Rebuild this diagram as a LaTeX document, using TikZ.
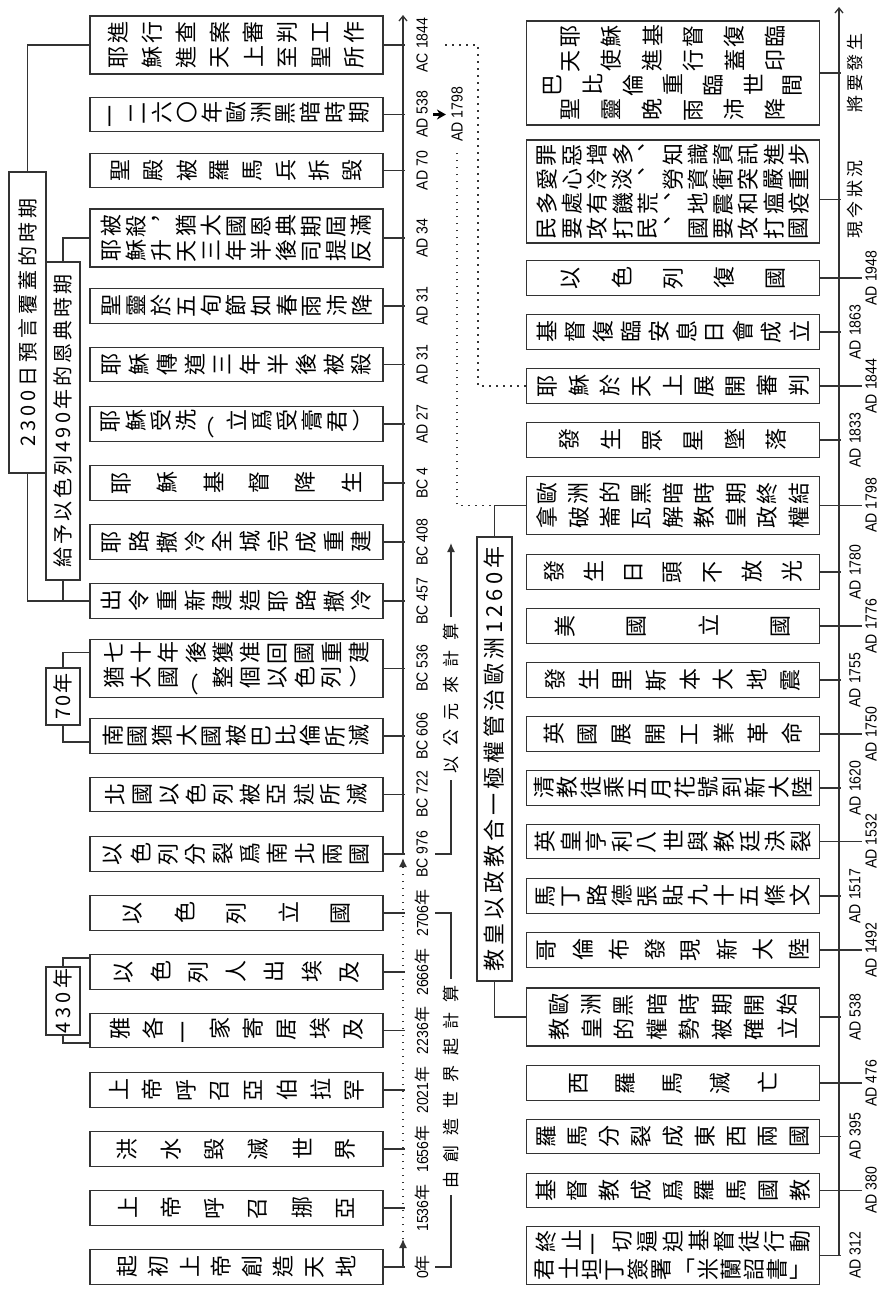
\documentclass[tikz,border=0pt]{standalone}
\usepackage{fontspec}
\usepackage{graphicx}
\usepackage{tikz}
\usetikzlibrary{arrows.meta}
\setmainfont{Liberation Sans}
\newfontfamily\cjk{Noto Sans CJK TC}
\newfontfamily\datefont[FakeStretch=0.88]{Liberation Sans}
\newcommand\nian{{\cjk 年}}
\newcommand\upright[1]{\rotatebox[origin=c]{-90}{#1}}

\ExplSyntaxOn
\dim_new:N \l_cell_dim
% one row of sideways characters spread over a given width
\NewDocumentCommand \sidecells { m m }
  {
    \dim_set:Nn \l_cell_dim { #1 / \tl_count:n {#2} }
    \hbox_to_wd:nn {#1}
      {
        \tl_map_inline:nn {#2}
          { \hbox_to_wd:nn { \l_cell_dim } { \hss \rotatebox[origin=c]{90}{##1} \hss } }
      }
  }
% letter spaced text
\NewDocumentCommand \tracked { m m }
  { \tl_map_inline:nn {#2} { ##1 \kern #1 } \kern -#1 }
\ExplSyntaxOff

\begin{document}
\begin{tikzpicture}[x=0.5pt, y=-0.5pt,
  box/.style={draw=black!80, line width=0.7pt, inner sep=0pt, minimum width=146.5pt,
    minimum height=17.25pt, align=center, font=\cjk\fontsize{11pt}{12.25pt}\selectfont},
  tall/.style={minimum height=29pt},
  spanbox/.style={draw=black!80, line width=0.7pt, rotate=90, inner sep=0pt,
    minimum height=17pt, font=\cjk\fontsize{10pt}{12pt}\selectfont},
  note/.style={rotate=90, inner sep=3pt, font=\cjk\fontsize{8.5pt}{10pt}\selectfont},
  date/.style={rotate=90, inner sep=1pt, font=\datefont\fontsize{8pt}{9pt}\selectfont},
  link/.style={draw=black!80, line width=0.65pt},
  dotline/.style={draw=black!80, line width=0.7pt, dash pattern=on 0.7pt off 2.8pt},
  headtip/.style={-{Latex[length=4.5pt,width=4pt]}},
  openhead/.style={-{Straight Barb[length=2.5pt,width=4pt]}}]
\useasboundingbox (0,0) rectangle (887,1292);

% Fixed points
\coordinate (laxis) at (403,0);
\coordinate (lt) at (405,0);
\coordinate (ldate) at (422,0);
\coordinate (lmid) at (403,1239);
\coordinate (lbc) at (403,858);
\coordinate (ltop) at (403,15);
\coordinate (raxis) at (839,0);
\coordinate (rt) at (841,0);
\coordinate (rl) at (862,0);
\coordinate (rn) at (855,0);
\coordinate (rf) at (871,0);
\coordinate (rtop) at (839,7);
\coordinate (cstart) at (435,0);
\coordinate (ceend) at (0,543);
\coordinate (dotx) at (457,0);
\coordinate (c1844) at (478,45);

% Left timeline boxes
\node[box, tall] (judgment) at (236.5,45) {\sidecells{135pt}{進行查案審判工作}\\\sidecells{135pt}{耶穌進天上至聖所}};
\node[box] (dark) at (236.5,114.5) {\sidecells{135.5pt}{一二六〇年歐洲黑暗時期}};
\node[box] (temple) at (236.5,170.5) {\sidecells{132.5pt}{聖殿被羅馬兵拆毀}};
\node[box, tall] (stephen) at (236.5,238) {\sidecells{137.5pt}{被殺︐猶大國恩典期屆滿}\\\sidecells{137.5pt}{耶穌升天三年半後司提反}};
\node[box] (pentecost) at (236.5,306) {\sidecells{138pt}{聖靈於五旬節如春雨沛降}};
\node[box] (cross) at (236.5,364.5) {\sidecells{139pt}{耶穌傳道三年半後被殺}};
\node[box] (baptism) at (236.5,424) {\sidecells{138.5pt}{耶穌受洗︵立爲受膏君︶}};
\node[box] (birth) at (236.5,483) {\sidecells{138pt}{耶穌基督降生}};
\node[box] (rebuilt) at (236.5,542) {\sidecells{139pt}{耶路撒冷全城完成重建}};
\node[box] (decree) at (236.5,601) {\sidecells{139pt}{出令重新建造耶路撒冷}};
\node[box, tall] (back) at (236.5,668.5) {\sidecells{136pt}{七十年後獲准回國重建}\\\sidecells{136pt}{猶大國︵整個以色列︶}};
\node[box] (south) at (236.5,736) {\sidecells{135.5pt}{南國猶大國被巴比倫所滅}};
\node[box] (north) at (236.5,794.5) {\sidecells{134.5pt}{北國以色列被亞述所滅}};
\node[box] (split) at (236.5,854) {\sidecells{137pt}{以色列分裂爲南北兩國}};
\node[box] (kingdom) at (236.5,913) {\sidecells{130pt}{以色列立國}};
\node[box] (exodus) at (236.5,972) {\sidecells{132pt}{以色列人出埃及}};
\node[box] (jacob) at (236.5,1030.5) {\sidecells{133.5pt}{雅各一家寄居埃及}};
\node[box] (abraham) at (236.5,1090) {\sidecells{135pt}{上帝呼召亞伯拉罕}};
\node[box] (flood) at (236.5,1149) {\sidecells{131pt}{洪水毀滅世界}};
\node[box] (noah) at (236.5,1208) {\sidecells{131pt}{上帝呼召挪亞}};
\node[box] (creation) at (236.5,1267) {\sidecells{125pt}{起初上帝創造天地}};

% Left timeline dates
\node[date] (djudgment) at (judgment -| ldate) {AC 1844};
\node[date] (ddark) at (dark -| ldate) {AD 538};
\node[date] (dtemple) at (temple -| ldate) {AD 70};
\node[date] (dstephen) at (stephen -| ldate) {AD 34};
\node[date] (dpentecost) at (pentecost -| ldate) {AD 31};
\node[date] (dcross) at (cross -| ldate) {AD 31};
\node[date] (dbaptism) at (baptism -| ldate) {AD 27};
\node[date] (dbirth) at (birth -| ldate) {BC 4};
\node[date] (drebuilt) at (rebuilt -| ldate) {BC 408};
\node[date] (ddecree) at (decree -| ldate) {BC 457};
\node[date] (dback) at (back -| ldate) {BC 536};
\node[date] (dsouth) at (south -| ldate) {BC 606};
\node[date] (dnorth) at (north -| ldate) {BC 722};
\node[date] (dsplit) at (split -| ldate) {BC 976};
\node[date] (dkingdom) at (kingdom -| ldate) {2706\nian};
\node[date] (dexodus) at (exodus -| ldate) {2666\nian};
\node[date] (djacob) at (jacob -| ldate) {2236\nian};
\node[date] (dabraham) at (abraham -| ldate) {2021\nian};
\node[date] (dflood) at (flood -| ldate) {1656\nian};
\node[date] (dnoah) at (noah -| ldate) {1536\nian};
\node[date] (dcreation) at (creation -| ldate) {0\nian};

% Left timeline axis and ticks
\draw[link, headtip] (creation -| laxis) -- (lmid);
\draw[dotline, headtip] (lmid) -- (lbc);
\draw[link, openhead] (split -| laxis) -- (ltop);
\draw[link] (judgment) -- (judgment -| lt);
\draw[link] (dark) -- (dark -| lt);
\draw[link] (temple) -- (temple -| lt);
\draw[link] (stephen) -- (stephen -| lt);
\draw[link] (pentecost) -- (pentecost -| lt);
\draw[link] (cross) -- (cross -| lt);
\draw[link] (baptism) -- (baptism -| lt);
\draw[link] (birth) -- (birth -| lt);
\draw[link] (rebuilt) -- (rebuilt -| lt);
\draw[link] (decree) -- (decree -| lt);
\draw[link] (back) -- (back -| lt);
\draw[link] (south) -- (south -| lt);
\draw[link] (north) -- (north -| lt);
\draw[link] (split) -- (split -| lt);
\draw[link] (kingdom) -- (kingdom -| lt);
\draw[link] (exodus) -- (exodus -| lt);
\draw[link] (jacob) -- (jacob -| lt);
\draw[link] (abraham) -- (abraham -| lt);
\draw[link] (flood) -- (flood -| lt);
\draw[link] (noah) -- (noah -| lt);
\draw[link] (creation) -- (creation -| lt);

% Periods on the left
\node[spanbox, minimum width=150.5pt, minimum height=18.5pt] (p2300) at (27.5,322.5) {\tracked{2pt}{2300日預言覆蓋的時期}};
\node[spanbox, minimum width=159pt] (p490) at (63,421) {\tracked{1.5pt}{給予以色列490年的恩典時期}};
\node[spanbox, minimum width=28.5pt] (p70) at (63,696.5) {\tracked{1pt}{70年}};
\node[spanbox, minimum width=34pt] (p430) at (63,1001) {\tracked{2pt}{430年}};
\draw[link] (p2300.east) |- (judgment.west);
\draw[link] (p2300.west) |- (decree.west);
\draw[link] (p490.east) |- (stephen.west);
\draw[link] (p490.west) |- (decree.west);
\draw[link] (p70.east) |- ([yshift=8pt]back.west);
\draw[link] (p70.west) |- ([yshift=-3pt]south.west);
\draw[link] (p430.east) |- ([yshift=7pt]exodus.west);
\draw[link] (p430.west) |- ([yshift=-6.25pt]jacob.west);

% Counting notes
\node[note] (fromcreation) at (451,1087) {\tracked{4.8pt}{由創造世界起計算}};
\node[note] (commonera) at (451,698.5) {\tracked{4.8pt}{以公元來計算}};
\draw[link] (creation -| cstart) -| (fromcreation.west);
\draw[link] (kingdom -| cstart) -| (fromcreation.east);
\draw[link] (split -| cstart) -| (commonera.west);
\draw[link, headtip] (commonera.east) -- (commonera.east |- ceend);

% Right timeline boxes
\node[box, minimum height=52pt] (future) at (673,73) {\sidecells{123pt}{耶穌基督復臨}\\\sidecells{123pt}{天使進行蓋印}\\\sidecells{140pt}{巴比倫重臨世間}\\\sidecells{123pt}{聖靈晚雨沛降}};
\node[box, minimum height=51.5pt] (now) at (673,191.5) {\sidecells{138.5pt}{罪惡增多︑知識資訊進步}\\\sidecells{138.5pt}{愛心冷淡︑勞資衝突嚴重}\\\sidecells{138.5pt}{多處有饑荒︑地震和瘟疫}\\\sidecells{138.5pt}{民要攻打民︑國要攻打國}};
\node[box] (israel) at (673,278) {\sidecells{128pt}{以色列復國}};
\node[box] (adventist) at (673,332) {\sidecells{140.5pt}{基督復臨安息日會成立}};
\node[box] (heaven) at (673,386) {\sidecells{141.5pt}{耶穌於天上展開審判}};
\node[box] (stars) at (673,440) {\sidecells{124pt}{發生眾星墜落}};
\node[box, tall] (napoleon) at (673,505.5) {\sidecells{141.5pt}{歐洲的黑暗時期終結}\\\sidecells{141.5pt}{拿破崙瓦解教皇政權}};
\node[box] (sun) at (673,572) {\sidecells{139pt}{發生日頭不放光}};
\node[box] (usa) at (673,626) {\sidecells{144pt}{美國立國}};
\node[box] (lisbon) at (673,680) {\sidecells{134.5pt}{發生里斯本大地震}};
\node[box] (industry) at (673,734) {\sidecells{136pt}{英國展開工業革命}};
\node[box] (pilgrims) at (673,788) {\sidecells{141pt}{清教徒乘五月花號到新大陸}};
\node[box] (henry) at (673,841.5) {\sidecells{141pt}{英皇亨利八世與教廷決裂}};
\node[box] (luther) at (673,896) {\sidecells{140pt}{馬丁路德張貼九十五條文}};
\node[box] (columbus) at (673,950) {\sidecells{144pt}{哥倫布發現新大陸}};
\node[box, tall] (papacy) at (673,1017) {\sidecells{130.5pt}{歐洲黑暗時期開始}\\\sidecells{130.5pt}{教皇的權勢被確立}};
\node[box] (westrome) at (673,1083) {\sidecells{117.5pt}{西羅馬滅亡}};
\node[box] (romesplit) at (673,1136.5) {\sidecells{142.5pt}{羅馬分裂成東西兩國}};
\node[box] (staterel) at (673,1190.5) {\sidecells{143.5pt}{基督教成爲羅馬國教}};
\node[box, tall] (milan) at (673,1255.5) {\sidecells{139.5pt}{終止一切逼迫基督徒行動}\\\sidecells{139.5pt}{君士坦丁簽署{\upright{「}}米蘭詔書{\upright{」}}}};
\coordinate (nowtick) at ([yshift=-4pt]now.east);

% Right timeline dates
\node[note] (lfuture) at (future -| rn) {\tracked{1.75pt}{將要發生}};
\node[note] (lnow) at (nowtick -| rn) {\tracked{1.75pt}{現今狀況}};
\node[date] (disrael) at (israel -| rf) {AD 1948};
\node[date] (dadventist) at (adventist -| rn) {AD 1863};
\node[date] (dheaven) at (heaven -| rf) {AD 1844};
\node[date] (dstars) at (stars -| rn) {AD 1833};
\node[date] (dnapoleon) at (napoleon -| rf) {AD 1798};
\node[date] (dsun) at (sun -| rn) {AD 1780};
\node[date] (dusa) at (usa -| rf) {AD 1776};
\node[date] (dlisbon) at (lisbon -| rn) {AD 1755};
\node[date] (dindustry) at (industry -| rf) {AD 1750};
\node[date] (dpilgrims) at (pilgrims -| rn) {AD 1620};
\node[date] (dhenry) at (henry -| rf) {AD 1532};
\node[date] (dluther) at (luther -| rn) {AD 1517};
\node[date] (dcolumbus) at (columbus -| rf) {AD 1492};
\node[date] (dpapacy) at (papacy -| rn) {AD 538};
\node[date] (dwestrome) at (westrome -| rf) {AD 476};
\node[date] (dromesplit) at (romesplit -| rn) {AD 395};
\node[date] (dstaterel) at (staterel -| rf) {AD 380};
\node[date] (dmilan) at (milan -| rn) {AD 312};

% Right timeline axis and ticks
\draw[link, openhead] (milan -| raxis) -- (rtop);
\draw[link] (future) -- (future -| rt);
\draw[link] (nowtick) -- (nowtick -| rt);
\draw[link] (israel) -- (israel -| rl);
\draw[link] (adventist) -- (adventist -| rt);
\draw[link] (heaven) -- (heaven -| rl);
\draw[link] (stars) -- (stars -| rt);
\draw[link] (napoleon) -- (napoleon -| rl);
\draw[link] (sun) -- (sun -| rt);
\draw[link] (usa) -- (usa -| rl);
\draw[link] (lisbon) -- (lisbon -| rt);
\draw[link] (industry) -- (industry -| rl);
\draw[link] (pilgrims) -- (pilgrims -| rt);
\draw[link] (henry) -- (henry -| rl);
\draw[link] (luther) -- (luther -| rt);
\draw[link] (columbus) -- (columbus -| rl);
\draw[link] (papacy) -- (papacy -| rt);
\draw[link] (westrome) -- (westrome -| rl);
\draw[link] (romesplit) -- (romesplit -| rt);
\draw[link] (staterel) -- (staterel -| rl);
\draw[link] (milan) -- (milan -| rt);

% Papal period
\node[spanbox, minimum width=222pt, minimum height=17.5pt, font=\cjk\fontsize{11pt}{13pt}\selectfont] (reign) at (494.5,759) {\tracked{2pt}{教皇以政教合一極權管治歐洲1260年}};
\draw[link] (reign.east) |- (napoleon.west);
\draw[link] (reign.west) |- (papacy.west);

% 1260 years and 2300 days
\node[date] (dnap) at (ddark -| dotx) {AD 1798};
\draw[line width=1.1pt, -{Stealth[length=4.5pt,width=5pt]}, shorten <=1.5pt, shorten >=1.5pt] (ddark.south) -- (dnap.north);
\draw[dotline, shorten >=3pt] (napoleon.west) -| (dnap.west);
\draw[dotline, shorten >=5pt] (heaven.west) -| (c1844) -- (djudgment.south);
\end{tikzpicture}
\end{document}
